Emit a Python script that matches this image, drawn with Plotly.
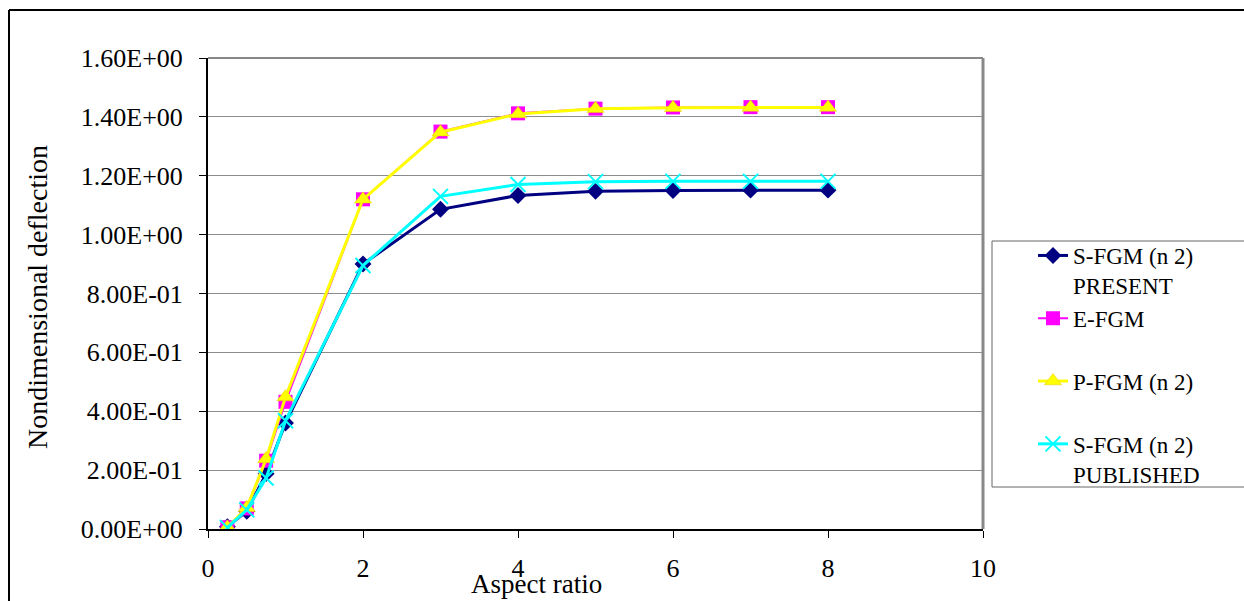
import plotly.graph_objects as go

# Aspect ratio values and nondimensional deflection for each plate model
aspect_ratio = [0.25, 0.5, 0.75, 1, 2, 3, 4, 5, 6, 7, 8]
s_fgm_present = [0.008, 0.060, 0.188, 0.360, 0.900, 1.086, 1.133, 1.147, 1.150, 1.151, 1.151]
e_fgm = [0.006, 0.070, 0.232, 0.432, 1.120, 1.350, 1.412, 1.428, 1.432, 1.433, 1.433]
p_fgm = [0.006, 0.072, 0.238, 0.448, 1.120, 1.348, 1.410, 1.428, 1.431, 1.432, 1.432]
s_fgm_published = [0.005, 0.065, 0.173, 0.368, 0.895, 1.130, 1.170, 1.180, 1.181, 1.181, 1.181]

y_tick_vals = [0, 0.2, 0.4, 0.6, 0.8, 1.0, 1.2, 1.4, 1.6]
y_tick_text = ["0.00E+00", "2.00E-01", "4.00E-01", "6.00E-01", "8.00E-01",
               "1.00E+00", "1.20E+00", "1.40E+00", "1.60E+00"]
x_tick_vals = [0, 2, 4, 6, 8, 10]

W, H = 1244, 601
L, R, T, B = 208, 983, 58, 529  # plot area in pixels


def px(xp):
    return (xp - L) / (R - L)


def py(yp):
    return (B - yp) / (B - T)


FONT = "Liberation Serif"

fig = go.Figure()
fig.add_trace(go.Scatter(
    x=aspect_ratio, y=s_fgm_present, name="S-FGM (n 2)<br>PRESENT",
    mode="lines+markers", line=dict(color="#000080", width=3),
    marker=dict(symbol="diamond", size=13, color="#000080")))
fig.add_trace(go.Scatter(
    x=aspect_ratio, y=e_fgm, name="E-FGM<br>&nbsp;",
    mode="lines+markers", line=dict(color="#FF00FF", width=2),
    marker=dict(symbol="square", size=14, color="#FF00FF")))
fig.add_trace(go.Scatter(
    x=aspect_ratio, y=p_fgm, name="P-FGM (n 2)<br>&nbsp;",
    mode="lines+markers", line=dict(color="#FFFF00", width=3),
    marker=dict(symbol="triangle-up", size=15, color="#FFFF00",
                line=dict(color="#E8C800", width=0.5))))
fig.add_trace(go.Scatter(
    x=aspect_ratio, y=s_fgm_published, name="S-FGM (n 2)<br>PUBLISHED",
    mode="lines+markers", line=dict(color="#00FFFF", width=3),
    marker=dict(symbol="x-thin", size=15, color="#00FFFF",
                line=dict(color="#00FFFF", width=2))))

shapes = [
    # plot area frame (top and right sides)
    dict(type="line", xref="paper", yref="paper", x0=0, x1=1, y0=1, y1=1,
         line=dict(color="#888888", width=2)),
    dict(type="line", xref="paper", yref="paper", x0=1, x1=1, y0=0, y1=1,
         line=dict(color="#888888", width=3)),
    # chart frame
    dict(type="line", xref="paper", yref="paper", x0=px(9), x1=px(9), y0=py(10), y1=py(605),
         line=dict(color="black", width=2)),
    dict(type="line", xref="paper", yref="paper", x0=px(9), x1=px(1250), y0=py(10), y1=py(10),
         line=dict(color="black", width=2)),
    # legend box
    dict(type="rect", xref="paper", yref="paper", x0=px(992), x1=px(1250), y0=py(487), y1=py(241),
         line=dict(color="#666666", width=1)),
]

fig.update_layout(
    width=W, height=H,
    margin=dict(l=L, r=W - R, t=T, b=H - B, autoexpand=False),
    paper_bgcolor="white", plot_bgcolor="white",
    font=dict(family=FONT, size=26, color="black"),
    showlegend=True,
    legend=dict(x=px(1033), y=py(234), xanchor="left", yanchor="top",
                xref="paper", yref="paper", valign="top",
                bgcolor="rgba(0,0,0,0)", borderwidth=0,
                font=dict(family=FONT, size=23, color="black"),
                tracegroupgap=0),
    shapes=shapes,
    annotations=[
        dict(text="Aspect ratio", xref="paper", yref="paper", x=px(536), y=py(584),
             xanchor="center", yanchor="middle", showarrow=False,
             font=dict(family=FONT, size=27, color="black")),
        dict(text="Nondimensional deflection", xref="paper", yref="paper", x=px(37), y=py(297),
             xanchor="center", yanchor="middle", textangle=-90, showarrow=False,
             font=dict(family=FONT, size=28, color="black")),
    ],
)

fig.update_xaxes(
    range=[0, 10], tickvals=x_tick_vals, showgrid=False, zeroline=False,
    showline=True, linecolor="black", linewidth=2,
    ticks="outside", ticklen=7, tickcolor="black", tickwidth=1,
    ticklabelstandoff=8,
)
fig.update_yaxes(
    range=[0, 1.6], tickvals=y_tick_vals, ticktext=y_tick_text,
    showgrid=True, gridcolor="#8c8c8c", gridwidth=1, zeroline=False,
    showline=True, linecolor="black", linewidth=2,
    ticks="outside", ticklen=7, tickcolor="black", tickwidth=1,
    ticklabelstandoff=11,
)

fig.write_html("out.html")
